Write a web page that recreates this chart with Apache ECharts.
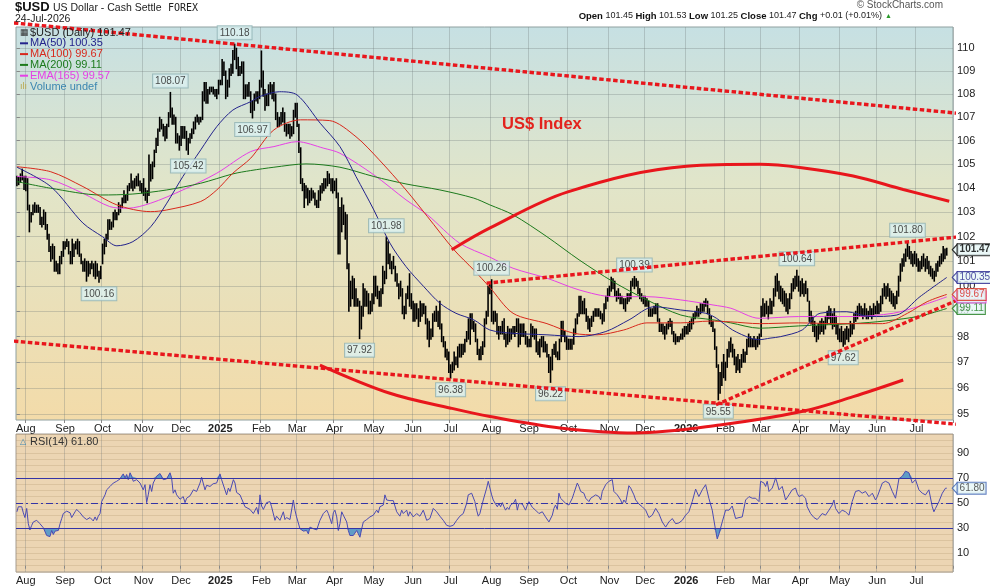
<!DOCTYPE html>
<html>
<head>
<meta charset="utf-8">
<title>$USD US Dollar - Cash Settle</title>
<script src="https://cdn.jsdelivr.net/npm/echarts@6.0.0/dist/echarts.min.js"></script>
<style>
  html, body { margin: 0; padding: 0; background: #fff; }
  #chart { width: 990px; height: 587px; }
</style>
</head>
<body>
<div id="chart"></div>
<script>
// trading days run Jul 25 2024 .. Jul 24 2026 (weekdays), plus a few empty slots on the right
const firstDay = [2024, 6, 25];
const lastDay = [2026, 6, 24];
const padDays = 3;
const monthNames = ['Jan', 'Feb', 'Mar', 'Apr', 'May', 'Jun', 'Jul', 'Aug', 'Sep', 'Oct', 'Nov', 'Dec'];

// daily bar highs / lows, one line per month
const barHigh = [
  104.5, 104.45, 104.6, 104.8, 104.5,
  104.5, 104.4, 103.3, 103.0, 103.3, 103.4, 103.3, 103.3, 103.2, 102.8, 103.1, 103.0, 102.5, 102.1, 101.6, 101.7, 101.6, 101.0, 100.9, 101.2, 101.4, 101.8,
  101.8, 101.9, 101.8, 101.4, 101.9, 101.7, 101.8, 101.9, 101.8, 101.3, 101.0, 101.1, 101.0, 101.0, 100.9, 101.0, 100.9, 101.0, 100.9, 100.6, 100.8,
  101.7, 101.9, 102.1, 102.7, 102.7, 102.6, 103.0, 103.1, 103.0, 103.4, 103.3, 103.6, 103.9, 103.7, 104.1, 104.2, 104.6, 104.3, 104.4, 104.5, 104.6, 104.3, 104.2,
  104.4, 104.0, 103.9, 105.4, 105.0, 105.1, 105.6, 106.1, 106.5, 107.0, 106.9, 106.7, 106.6, 106.7, 107.2, 108.07, 107.4, 107.1, 107.0, 106.3, 106.2,
  106.6, 106.6, 106.6, 106.4, 106.1, 106.3, 106.5, 106.8, 107.0, 107.1, 107.0, 107.0, 108.1, 108.5, 108.5, 108.2, 108.3, 108.3, 108.3, 108.2, 108.2, 108.6,
  108.6, 109.5, 109.4, 109.0, 108.6, 109.1, 109.3, 109.9, 110.18, 110.0, 109.6, 109.2, 109.4, 109.4, 108.4, 108.4, 108.5, 108.1, 107.7, 108.0, 108.1, 108.1, 108.6,
  109.88, 109.0, 108.2, 108.0, 108.4, 108.5, 108.4, 108.5, 108.0, 107.2, 107.0, 107.2, 107.4, 107.2, 106.7, 106.7, 106.7, 106.6, 107.3, 107.6,
  107.6, 106.7, 105.7, 104.4, 104.2, 104.1, 104.0, 103.9, 104.0, 103.9, 103.8, 103.5, 103.9, 104.1, 104.2, 104.4, 104.4, 104.7, 104.6, 104.4, 104.4,
  104.3, 104.4, 103.8, 103.2, 103.6, 103.3, 103.0, 102.9, 100.9, 100.2, 100.4, 100.3, 99.9, 99.5, 99.4, 99.2, 100.1, 99.9, 99.8, 99.7, 99.4, 99.7,
  100.4, 100.4, 100.0, 99.8, 99.9, 100.8, 100.6, 101.98, 101.8, 101.3, 101.0, 101.2, 100.8, 100.5, 100.1, 100.2, 99.9, 99.2, 99.7, 100.0, 100.5, 99.7,
  99.4, 99.3, 99.3, 99.1, 99.4, 99.3, 99.3, 99.2, 98.7, 98.6, 98.3, 98.9, 99.0, 99.2, 99.0, 99.4, 98.5, 98.0, 97.8, 97.5, 97.4,
  96.9, 97.0, 97.4, 97.2, 97.6, 97.7, 97.7, 97.7, 97.9, 98.2, 98.7, 98.9, 98.9, 98.6, 98.5, 97.9, 97.5, 97.6, 97.8, 98.7, 99.0, 100.0, 100.1,
  100.26, 99.0, 99.0, 98.9, 98.4, 98.4, 98.6, 98.7, 98.1, 98.4, 98.3, 98.3, 98.4, 98.4, 98.7, 98.7, 98.5, 98.5, 98.5, 98.2, 98.0,
  97.9, 98.5, 98.4, 98.3, 98.3, 97.8, 97.9, 98.0, 98.0, 97.8, 97.7, 97.3, 97.2, 97.5, 97.7, 97.8, 97.4, 97.9, 98.6, 98.6, 98.2, 98.0,
  97.9, 97.9, 97.9, 98.3, 98.7, 98.9, 99.6, 99.6, 99.4, 99.5, 99.1, 98.8, 98.7, 98.8, 99.0, 99.1, 99.1, 99.1, 99.0, 98.9, 99.3, 99.6, 99.9,
  100.0, 100.36, 100.3, 100.2, 99.8, 99.9, 99.7, 99.6, 99.5, 99.5, 99.7, 99.7, 100.2, 100.3, 100.39, 100.3, 100.2, 99.9, 99.7, 99.6,
  99.6, 99.5, 99.4, 99.1, 99.1, 99.2, 99.3, 99.3, 98.7, 98.5, 98.5, 98.4, 98.5, 98.6, 98.7, 98.6, 98.2, 98.1, 98.0, 98.0, 98.1, 98.3, 98.4,
  98.4, 98.5, 98.6, 98.7, 98.9, 99.0, 99.2, 99.1, 99.3, 99.3, 99.4, 99.5, 99.4, 99.1, 98.8, 98.6, 98.3, 97.6, 96.9, 96.6, 97.0, 97.3,
  97.0, 97.5, 97.8, 97.95, 97.7, 97.5, 97.2, 97.3, 97.1, 97.3, 97.5, 97.4, 97.9, 98.1, 98.0, 97.9, 98.0, 97.9, 98.0, 98.1,
  99.2, 99.5, 99.3, 99.4, 99.2, 99.5, 99.4, 99.9, 100.4, 100.5, 100.2, 100.0, 99.9, 99.8, 99.7, 99.5, 99.7, 100.1, 100.3, 100.4, 100.64, 100.4,
  100.2, 100.3, 100.1, 100.2, 99.9, 99.4, 99.0, 98.8, 98.6, 98.4, 98.5, 98.6, 98.7, 98.6, 98.8, 99.0, 99.2, 99.1, 98.9, 99.1, 98.8, 98.5,
  98.3, 98.4, 98.2, 98.3, 98.4, 98.3, 98.6, 98.5, 98.9, 99.0, 99.2, 99.3, 99.2, 99.1, 99.3, 99.1, 99.0, 99.2, 99.1, 99.3, 99.2,
  99.4, 99.3, 99.6, 99.9, 100.1, 100.0, 100.1, 99.9, 99.8, 99.7, 99.6, 99.8, 100.4, 100.9, 101.1, 101.3, 101.5, 101.80, 101.6, 101.4, 101.3, 101.4,
  101.3, 101.1, 101.0, 101.2, 101.3, 101.1, 101.2, 101.0, 100.8, 100.7, 100.6, 100.9, 101.0, 101.2, 101.3, 101.6, 101.5, 101.53
];
const barLow = [
  104.1, 104.15, 104.25, 104.35, 103.95,
  103.9, 103.1, 102.2, 102.6, 102.9, 103.0, 103.0, 103.0, 102.5, 102.4, 102.5, 102.3, 101.9, 101.4, 101.0, 101.1, 100.6, 100.6, 100.5, 100.5, 100.9, 101.2,
  101.5, 101.6, 101.3, 100.9, 100.9, 101.2, 101.5, 101.3, 101.2, 100.9, 100.6, 100.6, 100.2, 100.4, 100.5, 100.7, 100.4, 100.3, 100.4, 100.16, 100.3,
  100.9, 101.3, 101.6, 101.9, 102.3, 102.3, 102.4, 102.7, 102.7, 102.9, 103.0, 103.2, 103.4, 103.4, 103.5, 103.9, 104.0, 103.9, 104.0, 104.1, 104.1, 103.9, 103.8,
  103.7, 103.5, 103.4, 103.7, 104.3, 104.4, 104.9, 105.5, 105.8, 106.4, 106.5, 106.2, 106.0, 106.1, 106.6, 107.0, 106.7, 106.7, 105.9, 105.9, 105.6,
  105.8, 106.1, 106.1, 105.6, 105.42, 105.9, 106.1, 106.3, 106.5, 106.8, 106.7, 106.8, 106.9, 107.7, 107.6, 107.6, 108.0, 108.1, 108.0, 107.9, 107.8, 108.0,
  108.4, 108.4, 108.8, 107.8, 107.9, 108.3, 108.8, 108.9, 109.5, 109.1, 108.8, 108.8, 108.9, 107.8, 107.8, 107.9, 107.9, 107.2, 106.97, 107.3, 107.7, 107.6, 107.8,
  108.3, 107.9, 107.3, 107.5, 107.5, 108.0, 107.8, 107.7, 106.9, 106.6, 106.6, 106.7, 106.8, 106.4, 106.2, 106.3, 106.1, 106.2, 106.3, 107.0,
  106.6, 105.5, 104.2, 103.9, 103.2, 103.6, 103.3, 103.4, 103.5, 103.6, 103.3, 103.2, 103.2, 103.5, 103.8, 103.9, 104.0, 104.1, 104.2, 103.9, 103.8,
  103.9, 103.6, 101.3, 101.3, 102.2, 102.5, 101.9, 100.7, 99.0, 99.2, 99.5, 99.2, 99.2, 99.2, 97.92, 98.3, 98.8, 99.2, 99.2, 98.9, 98.9, 99.0,
  99.3, 99.6, 99.5, 99.2, 99.2, 99.7, 100.1, 100.3, 100.9, 100.7, 100.5, 100.7, 100.2, 100.0, 99.5, 99.6, 98.9, 98.7, 98.9, 99.5, 99.2, 99.1,
  98.6, 98.6, 98.7, 98.4, 98.6, 98.8, 98.9, 98.5, 97.9, 97.6, 97.9, 98.0, 98.6, 98.6, 98.4, 98.3, 97.8, 97.6, 97.2, 97.1, 96.6,
  96.38, 96.6, 96.7, 96.9, 96.8, 97.2, 97.2, 97.3, 97.4, 97.8, 97.9, 97.7, 98.3, 98.2, 97.8, 97.3, 97.1, 97.1, 97.3, 97.6, 98.5, 98.8, 99.7,
  98.6, 98.5, 98.6, 98.1, 97.9, 98.1, 98.1, 97.9, 97.6, 97.7, 97.8, 97.9, 98.1, 98.0, 98.2, 97.6, 97.7, 98.0, 98.0, 97.7, 97.6,
  97.6, 97.6, 98.0, 97.9, 97.4, 97.3, 97.2, 97.6, 97.4, 97.4, 97.2, 96.6, 96.22, 96.7, 97.3, 97.2, 97.1, 97.1, 97.8, 98.0, 97.8, 97.5,
  97.5, 97.5, 97.5, 97.7, 98.1, 98.5, 98.8, 98.9, 98.9, 98.9, 98.6, 98.3, 98.2, 98.4, 98.6, 98.8, 98.8, 98.8, 98.7, 98.5, 98.6, 99.1, 99.4,
  99.6, 99.8, 99.9, 99.6, 99.4, 99.5, 99.3, 99.3, 99.1, 99.0, 99.3, 99.4, 99.5, 100.0, 99.9, 100.0, 99.7, 99.5, 99.4, 99.3,
  99.2, 99.2, 98.8, 98.8, 98.8, 98.9, 98.9, 98.6, 98.2, 98.2, 98.1, 97.9, 98.1, 98.3, 98.4, 98.1, 97.8, 97.7, 97.8, 97.8, 97.9, 97.9, 98.0,
  98.1, 98.1, 98.2, 98.3, 98.5, 98.7, 98.8, 98.8, 98.9, 99.0, 99.0, 99.2, 98.9, 98.5, 98.4, 98.2, 97.5, 96.8, 95.55, 95.8, 96.1, 96.4,
  96.3, 96.8, 97.2, 97.4, 97.2, 96.9, 96.6, 96.7, 96.6, 96.8, 97.0, 97.0, 97.3, 97.6, 97.6, 97.6, 97.6, 97.5, 97.6, 97.7,
  98.0, 98.8, 98.8, 98.9, 98.7, 98.9, 98.9, 99.2, 99.6, 99.8, 99.5, 99.4, 99.3, 99.2, 99.0, 98.9, 99.1, 99.5, 99.8, 99.9, 100.0, 99.8,
  99.6, 99.7, 99.6, 99.7, 99.4, 98.6, 98.5, 98.2, 98.0, 97.8, 97.9, 98.1, 98.2, 98.1, 98.3, 98.5, 98.7, 98.5, 98.3, 98.4, 98.1, 97.9,
  97.8, 97.8, 97.62, 97.7, 97.9, 97.8, 98.0, 98.1, 98.3, 98.6, 98.7, 98.8, 98.8, 98.7, 98.8, 98.7, 98.7, 98.8, 98.7, 98.8, 98.9,
  98.9, 98.9, 99.0, 99.3, 99.6, 99.5, 99.6, 99.4, 99.3, 99.2, 99.1, 99.3, 99.6, 100.2, 100.6, 100.8, 101.0, 101.2, 101.1, 100.9, 100.8, 100.9,
  100.8, 100.6, 100.6, 100.7, 100.8, 100.6, 100.7, 100.5, 100.4, 100.3, 100.2, 100.4, 100.6, 100.8, 100.9, 101.0, 101.1, 101.25
];

// last session
const lastOpen = 101.45, lastHigh = 101.53, lastLow = 101.25, lastClose = 101.47;
const lastChg = 0.01, lastChgPct = 0.01;

// moving averages: [trading day, value]
const ma50Pts = [[0,104.88],[19,104.07],[37,102.56],[48,102.0],[56,101.63],[65,101.8],[75,102.41],[84,103.38],[93,104.49],[103,105.61],[112,106.6],[121,107.31],[131,107.67],[136,107.89],[147,108.1],[157,107.96],[170,106.74],[181,105.75],[190,104.49],[200,103.1],[209,101.74],[218,100.79],[228,99.98],[237,99.32],[246,98.92],[256,98.66],[265,98.26],[278,98.13],[297,98.07],[315,98.0],[330,98.2],[343,98.66],[357,99.18],[372,99.05],[386,98.92],[392,98.72],[401,98.26],[411,97.94],[416,97.88],[422,97.94],[428,98.0],[440,98.26],[450,98.92],[465,98.98],[478,98.79],[493,98.85],[506,99.58],[521,100.35]];
const ma100Pts = [[0,104.9],[19,104.69],[37,104.07],[56,103.31],[75,103.03],[84,103.1],[103,103.45],[112,103.93],[121,104.63],[131,105.26],[144,106.46],[159,106.89],[175,106.86],[190,106.17],[203,105.19],[218,103.93],[230,102.83],[245,101.46],[256,100.65],[265,99.95],[278,98.92],[297,98.51],[312,98.13],[325,98.07],[340,98.26],[353,98.54],[372,98.54],[388,98.61],[400,98.58],[416,98.51],[438,98.54],[459,98.51],[485,98.51],[499,98.92],[510,99.38],[521,99.67]];
const ma200Pts = [[0,104.28],[19,104.0],[47,103.72],[65,103.76],[84,103.93],[103,104.21],[121,104.6],[131,104.74],[144,104.88],[162,105.02],[181,104.88],[200,104.49],[218,104.18],[237,103.93],[256,103.59],[265,103.31],[278,102.9],[297,102.0],[315,101.06],[334,100.18],[353,99.45],[372,98.85],[390,98.66],[400,98.54],[416,98.33],[438,98.42],[468,98.51],[487,98.62],[506,98.81],[521,99.11]];
const ema165Pts = [[0,104.49],[19,104.35],[37,103.79],[52,103.24],[62,103.17],[75,103.38],[93,103.93],[112,104.63],[131,105.54],[144,105.75],[157,105.96],[172,105.68],[181,105.47],[200,104.56],[218,103.52],[230,102.9],[248,101.74],[265,101.17],[278,100.72],[297,100.32],[315,99.85],[334,99.58],[353,99.58],[372,99.45],[390,99.25],[400,99.12],[416,98.72],[438,98.79],[468,98.79],[491,98.92],[506,99.21],[521,99.57]];

// labelled highs and lows: [trading day, price, side]
const extremes = [[46,100.16,'bottom'],[86,108.07,'top'],[96,105.42,'bottom'],[122,110.18,'top'],[132,106.97,'bottom'],[192,97.92,'bottom'],[207,101.98,'top'],[243,96.38,'bottom'],[266,100.26,'top'],[299,96.22,'bottom'],[346,100.39,'top'],[393,95.55,'bottom'],[437,100.64,'top'],[463,97.62,'bottom'],[499,101.80,'top']];

const priceTicks = [95, 96, 97, 98, 99, 100, 101, 102, 103, 104, 105, 106, 107, 108, 109, 110];
const rsiTicks = [10, 30, 50, 70, 90];

// RSI(14): [trading day, value]
const rsiPts = [[0,43],[0.8,47],[1.7,46.5],[2.7,47],[3.6,42.2],[4.5,38.4],[5.5,45.7],[6.4,33.5],[7.3,28.6],[8.3,32.2],[9.2,34.9],[11.1,36.2],[12.9,33.5],[14.8,30.3],[15.7,30.8],[16.7,24.1],[18.5,23.2],[19.5,28.1],[20.4,24.9],[21.4,27.6],[22.3,26.8],[23.2,28.1],[24.2,33.5],[25.1,37.6],[26,41.6],[27.9,43.5],[29.8,42.2],[30.7,38.4],[31.6,39.5],[32.6,43],[33.5,44.9],[35.4,42.2],[37.2,38.9],[39.1,36.8],[41,38.4],[42.8,35.7],[43.8,38.9],[44.7,36.2],[45.6,39.5],[46.6,41.6],[47.5,51.1],[49.4,56.5],[50.3,60.5],[52.2,63.2],[54,65.9],[55.9,67.3],[57.8,69.2],[58.7,71.4],[59.6,73.2],[60.6,70],[61.5,72.7],[62.4,68.6],[63.4,74.1],[64.3,71.4],[65.2,67.3],[67.1,68.6],[69,65.9],[70.8,60.5],[71.8,64.6],[72.7,50.3],[73.6,56.5],[74.6,64.6],[75.5,59.2],[76.4,65.9],[78.3,71.4],[80.2,73.5],[82,68.6],[83.9,69.2],[85.8,74.1],[86.7,70],[87.6,57.8],[88.6,60.5],[89.5,56.5],[91.4,53],[93.2,55.1],[94.2,50.3],[95.1,53.8],[97,55.7],[98.9,60.5],[100.7,59.2],[102.6,65.9],[103.5,70.5],[104.4,70],[105.4,60.5],[106.3,64.1],[108.2,63.2],[110,65.4],[111.9,65.9],[113.8,73.2],[114.7,68.6],[115.7,69.2],[117.5,56.5],[118.5,61.9],[119.4,59.2],[121.3,68.6],[122.2,65.9],[123.1,58.4],[125,56.5],[125.9,57.8],[127.8,47],[128.7,45.7],[130.6,44.9],[132.5,41.6],[134.3,46.5],[135.3,41.1],[136.2,56.5],[137.1,47.6],[138.1,44.9],[139.9,50.3],[141.8,51.1],[142.7,47],[144.6,36.2],[145.5,39.5],[147.4,36.2],[148.3,37.6],[149.3,43],[150.2,36.8],[151.1,38.4],[153,36.8],[154.9,52.4],[155.8,44.3],[156.7,38.9],[158.6,29.5],[160.5,27.6],[162.3,28.1],[163.3,25.4],[164.2,30.8],[166.1,29.5],[168,28.6],[169.8,36.2],[171.7,41.6],[173.6,44.3],[174.5,41.6],[175.4,43],[176.4,33.5],[177.3,42.2],[178.2,44.3],[179.2,38.9],[180.1,28.1],[181,33.5],[182,43],[182.9,40.3],[183.8,38.9],[184.8,34.9],[185.7,28.1],[186.6,24.1],[187.6,25.4],[188.5,24.1],[189.4,25.4],[190.4,28.1],[191.3,25.4],[192.2,22.7],[193.2,29.5],[194.1,34.9],[196,36.8],[196.9,36.2],[197.8,38.9],[199.7,40.3],[200.6,40.3],[201.6,44.3],[202.5,42.2],[203.4,47],[205.3,48.4],[206.2,56.5],[207.2,52.4],[209,51.9],[210.9,51.9],[212.8,43],[214.6,39.5],[215.6,44.3],[216.5,41.6],[218.4,44.3],[219.3,39.5],[220.2,43],[222.1,38.9],[224,41.6],[225.8,39.5],[227.7,44.3],[229.6,36.2],[231.4,37.6],[233.3,45.7],[234.2,47],[235.2,43],[237,39.5],[238.9,36.2],[240.8,32.2],[242.6,31.4],[244.5,32.2],[246.4,36.2],[248.2,39.5],[250.1,41.6],[252,49.7],[252.9,56.5],[253.8,55.1],[254.8,57.8],[255.7,56.5],[256.6,51.1],[257.6,44.3],[258.5,39.5],[259.4,41.6],[261.3,52.4],[263.2,61.9],[264.1,67.3],[265,65.9],[266,56.5],[266.9,52.4],[268.2,49.2],[269.2,47],[270.1,49.7],[271,47],[272,50.3],[272.9,47],[273.8,44.3],[274.8,46.5],[275.7,44.9],[276.6,48.4],[277.6,47],[278.5,50.3],[279.4,53],[280.4,44.3],[281.3,49.7],[283.2,49.2],[285,44.3],[286,48.4],[286.9,51.1],[287.8,50.3],[288.8,46.5],[290.6,44.3],[291.6,45.7],[292.5,41.6],[294.4,43],[296.2,38.9],[298.1,34.9],[300,40.3],[300.9,45.7],[301.8,48.4],[302.8,44.9],[303.7,57.8],[304.6,53.8],[305.6,52.4],[307.5,49.7],[309.3,48.4],[311.2,53.8],[312.1,57.8],[314,65.9],[314.9,63.2],[315.9,59.2],[316.8,60.5],[317.7,57.8],[318.7,53.8],[320.5,51.1],[321.5,53.8],[322.4,55.1],[324.3,56.5],[326.1,55.1],[327.1,52.4],[328,59.2],[329.9,64.6],[331.7,67.3],[332.7,68.6],[333.6,68.6],[334.5,59.2],[336.4,56.5],[338.3,52.4],[339.2,49.2],[340.1,52.4],[341.1,50.3],[342.9,63.8],[343.9,61.9],[344.8,63.2],[345.7,56.5],[346.7,52.4],[347.6,51.9],[348.5,49.2],[350.4,47],[352.3,44.3],[354.1,38.4],[356,40.3],[357.9,45.7],[359.7,41.6],[361.6,34.9],[363.5,30.8],[365.3,34.9],[367.2,37.6],[369.1,33.5],[370.9,34.1],[372.8,36.2],[374.7,40.3],[376.5,43],[378.4,51.1],[380.3,61.1],[382.1,55.1],[384,60.5],[385.9,64.6],[387.7,53.8],[389.6,44.3],[391.5,28.1],[392.4,21.4],[393.4,25.4],[394.3,24.1],[395.2,34.9],[397.1,44.3],[399,44.3],[400.8,47.6],[402.7,37.6],[404.6,38.4],[406.4,38.9],[408.3,52.4],[410.2,55.1],[412,53.8],[413.9,53.8],[415.8,51.1],[416.7,67.3],[417.6,65.9],[418.6,65.9],[419.5,63.2],[420.4,67.3],[421.4,59.2],[423.2,61.9],[424.2,65.9],[425.1,70],[426,65.9],[427,60.5],[428.8,63.2],[429.8,57.8],[430.7,52.4],[432.6,56.5],[434.4,60.5],[436.3,61.9],[437.2,57.8],[438.2,55.1],[440,56.5],[441.9,53.8],[442.8,47],[444.7,41.6],[446.6,38.4],[448.4,36.8],[449.4,38.4],[451.2,41.6],[453.1,40.3],[455,44.3],[456.8,48.4],[457.8,52.4],[458.7,45.7],[460.6,41.6],[462.4,44.3],[464.3,43],[466.2,40.3],[467.1,39.5],[468,51.1],[469.9,59.2],[471.8,60],[473.6,57.8],[475.5,59.2],[477.4,55.1],[479.3,57.8],[481.1,52.4],[482.1,55.1],[483,56.5],[484.9,65.9],[486.7,67.3],[488.6,65.9],[490.5,59.2],[492.3,53.8],[494.2,69.2],[496.1,71.4],[497.9,75.4],[498.9,76.8],[499.8,74.1],[501.7,65.9],[503.5,68.6],[505.4,60.5],[507.3,57.8],[509.1,56.5],[511,60.5],[512.9,47],[513.8,43],[514.7,45.7],[516.6,51.1],[518.5,57.8],[520.3,61.8],[521,61.8]];
const rsiLast = 61.80;

// hand drawn red annotations: [trading day, price]
const trendUpper = [[-9.5,111.18],[545.2,107.04]];
const trendLower = [[-9.5,97.87],[531.7,94.59]];
const channelTop = [[263.2,100.12],[545.2,102.12]];
const supportRise = [[391.7,95.36],[545.2,100.01]];
const arcUpper = [[243.6,101.47],[265.1,102.36],[308.7,103.85],[375.2,104.92],[416.3,105.0],[439.7,104.86],[468.6,104.51],[496.6,103.95],[522.4,103.46]];
const arcLower = [[169.8,96.89],[209,95.8],[243.2,95.23],[265.1,94.91],[304.3,94.48],[346.3,94.29],[393.9,94.59],[439.7,95.1],[468.6,95.67],[496.6,96.31]];

const FONT = "'Liberation Sans', Arial, sans-serif";
const C = { ma50: '#23238c', ma100: '#d8281c', ma200: '#1c7a1c', ema: '#e640e6', red: '#e8161c', rsi: '#4a4ab4' };

// build weekday calendar
const cats = [];
const monthStart = [];
(function () {
  let t = Date.UTC(firstDay[0], firstDay[1], firstDay[2]);
  const end = Date.UTC(lastDay[0], lastDay[1], lastDay[2]);
  let prev = -1;
  while (t <= end) {
    const d = new Date(t);
    const wd = d.getUTCDay();
    if (wd !== 0 && wd !== 6) {
      const m = d.getUTCMonth();
      monthStart.push(cats.length > 0 && m !== prev);
      cats.push(d.getUTCFullYear() + '-' + String(m + 1).padStart(2, '0') + '-' + String(d.getUTCDate()).padStart(2, '0'));
      prev = m;
    }
    t += 86400000;
  }
  for (let k = 0; k < padDays; k++) { cats.push(''); monthStart.push(false); }
})();
const N = cats.length;
const lastIdx = barHigh.length - 1;
if (barHigh.length !== N - padDays || barLow.length !== barHigh.length) console.warn('bar count', barHigh.length, barLow.length, N - padDays);

const isMonth = (i) => monthStart[i];
const monthLabel = (v) => {
  if (!v) return '';
  const p = v.split('-');
  return p[1] === '01' ? '{y|' + p[0] + '}' : monthNames[+p[1] - 1];
};

function catAxis(grid) {
  return {
    type: 'category', gridIndex: grid, data: cats, boundaryGap: true,
    axisLine: { show: false },
    axisTick: { show: true, interval: isMonth, length: 3, lineStyle: { color: '#888' } },
    axisLabel: {
      interval: isMonth, formatter: monthLabel, color: '#222', fontSize: 11, fontFamily: FONT, margin: 3,
      rich: { y: { fontWeight: 'bold', fontSize: 11, fontFamily: FONT, color: '#222' } }
    },
    splitLine: { show: true, interval: isMonth, lineStyle: { color: 'rgba(110,120,120,0.3)', width: 1 } }
  };
}
const valAxis = (grid) => ({ type: 'value', gridIndex: grid, min: -0.5, max: N - 0.5, show: false });

function redLine(data, dotted, smooth) {
  return {
    type: 'line', xAxisIndex: 1, yAxisIndex: 0, data: data, clip: false, silent: true,
    showSymbol: false, smooth: smooth ? 0.35 : false, z: 8,
    lineStyle: { color: C.red, width: dotted ? 3.4 : 3, type: dotted ? [4.5, 2.5] : 'solid', cap: 'butt' }
  };
}
function maLine(name, data, color) {
  return {
    name: name, type: 'line', xAxisIndex: 1, yAxisIndex: 0, data: data, smooth: 0.3,
    showSymbol: false, silent: true, z: 4, lineStyle: { color: color, width: 1 }
  };
}
function tag(v, color, bold) {
  return {
    value: [lastIdx, v],
    itemStyle: { color: '#e6f6f6', borderColor: color, borderWidth: 1 },
    label: { color: bold ? '#000' : color, borderColor: color, fontWeight: bold ? 'bold' : 'normal' }
  };
}

const chart = echarts.init(document.getElementById('chart'), null, { renderer: 'canvas' });

chart.setOption({
  animation: false,
  backgroundColor: '#fff',
  grid: [
    {
      left: 16, right: 37, top: 27, height: 393, show: true, borderColor: '#8fa0a0', borderWidth: 1,
      backgroundColor: new echarts.graphic.LinearGradient(0, 0, 0, 1, [
        { offset: 0, color: '#c6e0e3' }, { offset: 0.4, color: '#e1e5c9' }, { offset: 1, color: '#f3dba9' }
      ])
    },
    { left: 16, right: 37, top: 434, height: 138, show: true, borderColor: '#a59c90', borderWidth: 1, backgroundColor: '#ecd5b3' }
  ],
  xAxis: [catAxis(0), valAxis(0), catAxis(1), valAxis(1)],
  yAxis: [
    {
      type: 'log', logBase: 10, gridIndex: 0, position: 'right', min: 94.78, max: 110.94,
      axisLine: { show: false },
      axisTick: { show: true, length: 3, customValues: priceTicks, lineStyle: { color: '#888' } },
      axisLabel: { customValues: priceTicks, formatter: (v) => String(Math.round(v)), color: '#222', fontSize: 11, fontFamily: FONT, margin: 4 },
      splitLine: { show: true, lineStyle: { color: 'rgba(110,120,120,0.3)', width: 1 } }
    },
    {
      type: 'value', gridIndex: 1, position: 'right', min: -5, max: 105, interval: 5,
      axisLine: { show: false }, axisTick: { show: false },
      axisLabel: { formatter: (v) => (rsiTicks.indexOf(v) >= 0 ? String(v) : ''), color: '#222', fontSize: 11, fontFamily: FONT, margin: 4 },
      splitLine: { show: true, lineStyle: { color: 'rgba(160,130,90,0.22)', width: 1 } }
    }
  ],
  series: [
    {
      // daily high-low bars
      type: 'custom', xAxisIndex: 1, yAxisIndex: 0, z: 3, silent: true,
      data: barHigh.map((h, i) => [i, barLow[i], h]),
      encode: { x: 0, y: [1, 2] },
      renderItem: function (params, api) {
        const a = api.coord([api.value(0), api.value(1)]);
        const b = api.coord([api.value(0), api.value(2)]);
        return { type: 'line', shape: { x1: a[0], y1: a[1] + 0.5, x2: b[0], y2: b[1] - 0.5 }, style: { stroke: '#000', lineWidth: 1.6 } };
      }
    },
    maLine('EMA(165)', ema165Pts, C.ema),
    maLine('MA(200)', ma200Pts, C.ma200),
    maLine('MA(100)', ma100Pts, C.ma100),
    maLine('MA(50)', ma50Pts, C.ma50),
    {
      type: 'scatter', xAxisIndex: 1, yAxisIndex: 0, symbolSize: 0, z: 6, silent: true,
      data: extremes.map((e) => ({ value: [e[0], e[1]], label: { position: e[2] } })),
      label: {
        show: true, distance: 5, formatter: (p) => p.value[1].toFixed(2),
        backgroundColor: '#dcf1f1', borderColor: '#8fb1b4', borderWidth: 1, padding: [2, 2, 1, 2],
        fontSize: 10, color: '#222', fontFamily: FONT
      }
    },
    redLine(trendUpper, true), redLine(trendLower, true), redLine(channelTop, true), redLine(supportRise, true),
    redLine(arcUpper, false, true), redLine(arcLower, false, true),
    {
      // value tags on the right axis
      type: 'scatter', xAxisIndex: 1, yAxisIndex: 0, z: 9, silent: true,
      symbol: 'path://M0,5L6,0L6,10Z', symbolSize: [5, 11], symbolOffset: [8, 0],
      data: [
        tag(ma200Pts[ma200Pts.length - 1][1], C.ma200),
        tag(ema165Pts[ema165Pts.length - 1][1], C.ema),
        tag(ma100Pts[ma100Pts.length - 1][1], C.ma100),
        tag(ma50Pts[ma50Pts.length - 1][1], C.ma50),
        tag(lastClose, '#000', true)
      ],
      label: {
        show: true, position: 'right', distance: 0, formatter: (p) => p.value[1].toFixed(2),
        backgroundColor: '#e6f6f6', borderWidth: 1, padding: [1, 1, 0, 2], fontSize: 10, fontFamily: FONT
      }
    },
    {
      type: 'line', xAxisIndex: 3, yAxisIndex: 1, silent: true, showSymbol: false, z: 2,
      data: rsiPts.map((p) => [p[0], Math.max(p[1], 70)]),
      lineStyle: { width: 0 }, areaStyle: { origin: 70, color: '#5f9cc6', opacity: 1 }
    },
    {
      type: 'line', xAxisIndex: 3, yAxisIndex: 1, silent: true, showSymbol: false, z: 2,
      data: rsiPts.map((p) => [p[0], Math.min(p[1], 30)]),
      lineStyle: { width: 0 }, areaStyle: { origin: 30, color: '#5f9cc6', opacity: 1 }
    },
    {
      name: 'RSI(14)', type: 'line', xAxisIndex: 3, yAxisIndex: 1, silent: true, showSymbol: false, z: 4,
      data: rsiPts, lineStyle: { color: C.rsi, width: 1 },
      markLine: {
        silent: true, symbol: 'none', label: { show: false },
        lineStyle: { color: '#3434a6', width: 1, type: 'solid' },
        data: [{ yAxis: 70 }, { yAxis: 30 }, { yAxis: 50, lineStyle: { type: [7, 3, 2, 3] } }]
      }
    },
    {
      type: 'scatter', xAxisIndex: 3, yAxisIndex: 1, z: 9, silent: true,
      symbol: 'path://M0,5L6,0L6,10Z', symbolSize: [5, 11], symbolOffset: [8, 0],
      itemStyle: { color: '#e6f6f6', borderColor: '#3a5fb0', borderWidth: 1 },
      data: [[lastIdx, rsiLast]],
      label: {
        show: true, position: 'right', distance: 0, formatter: (p) => p.value[1].toFixed(2),
        backgroundColor: '#e6f6f6', borderColor: '#3a5fb0', borderWidth: 1, padding: [1, 1, 0, 2],
        fontSize: 10, color: '#333', fontFamily: FONT
      }
    }
  ],
  graphic: (function () {
    const g = [];
    const txt = (x, y, text, extra) => g.push({
      type: 'text', x: x, y: y, silent: true, z: 20,
      style: Object.assign({ text: text, fontFamily: FONT, fontSize: 10, fill: '#222', align: 'left', verticalAlign: 'middle' }, extra || {})
    });
    // header
    txt(15, 7, '$USD', { fontSize: 13, fontWeight: 'bold', fill: '#111' });
    txt(53, 8, 'US Dollar - Cash Settle', { fontSize: 10.5 });
    txt(168, 8, 'FOREX', { fontSize: 10, fontFamily: "'DejaVu Sans Mono', monospace" });
    txt(15, 19.5, '24-Jul-2026', { fontSize: 10.5 });
    txt(943, 5, '\u00a9 StockCharts.com', { fontSize: 10, fill: '#555', align: 'right' });
    txt(882, 16,
      '{b|Open} ' + lastOpen.toFixed(2) + ' {b|High} ' + lastHigh.toFixed(2) + ' {b|Low} ' + lastLow.toFixed(2) +
      ' {b|Close} ' + lastClose.toFixed(2) + ' {b|Chg} +' + lastChg.toFixed(2) + ' (+' + lastChgPct.toFixed(2) + '%)',
      { fontSize: 9, align: 'right', rich: { b: { fontWeight: 'bold', fontSize: 9.5, fontFamily: FONT, fill: '#111' } } });
    txt(885, 16, '\u25b2', { fontSize: 7, fill: '#2a9a2a' });
    // legend
    const rows = [
      ['$USD (Daily) ' + lastClose.toFixed(2), '#222'],
      ['MA(50) ' + ma50Pts[ma50Pts.length - 1][1].toFixed(2), C.ma50],
      ['MA(100) ' + ma100Pts[ma100Pts.length - 1][1].toFixed(2), C.ma100],
      ['MA(200) ' + ma200Pts[ma200Pts.length - 1][1].toFixed(2), C.ma200],
      ['EMA(165) ' + ema165Pts[ema165Pts.length - 1][1].toFixed(2), C.ema],
      ['Volume undef', '#3c86b0']
    ];
    rows.forEach((r, k) => {
      const y = 32.5 + k * 10.8;
      if (k === 0) txt(20, y, '\u25a6', { fontSize: 9, fill: '#333' });
      else if (k === 5) txt(20, y, '\u0131l\u0131', { fontSize: 9, fill: '#b9a84a' });
      else g.push({ type: 'rect', silent: true, z: 20, shape: { x: 20, y: y - 1, width: 8, height: 2 }, style: { fill: r[1] } });
      txt(30, y, r[0], { fontSize: 11, fill: r[1] });
    });
    txt(502, 124, 'US$ Index', { fontSize: 16.5, fontWeight: 'bold', fill: '#e3231d' });
    // RSI panel caption
    txt(20, 441.5, '\u25b3', { fontSize: 8, fill: '#3c86b0' });
    txt(30, 441.5, 'RSI(14) ' + rsiLast.toFixed(2), { fontSize: 11, fill: '#333' });
    return g;
  })()
});
</script>
</body>
</html>
